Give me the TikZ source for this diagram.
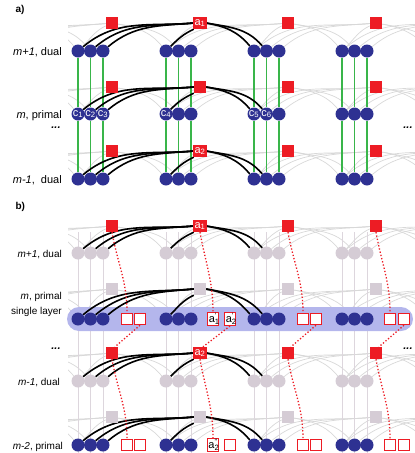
\documentclass[tikz,border=0pt]{standalone}
\usepackage{fontspec}
\setmainfont{Liberation Sans}
\usetikzlibrary{positioning}
\definecolor{navy}{RGB}{46,49,146}
\definecolor{tred}{RGB}{237,28,36}
\definecolor{tgreen}{RGB}{57,181,74}
\definecolor{mauve}{RGB}{213,204,213}
\definecolor{lgrey}{RGB}{216,216,216}
\definecolor{bandblue}{RGB}{180,182,236}
\pgfdeclarelayer{back}
\pgfdeclarelayer{mid}
\pgfdeclarelayer{front}
\pgfsetlayers{back,mid,main,front}
\newcommand{\ssub}[2]{#1\textsubscript{#2}}
\newcommand{\ssup}[3]{#1\rlap{\textsubscript{#2}}\textsuperscript{#3}}

\begin{document}
\begin{tikzpicture}[x=1pt, y=-1pt,
  qubit/.style={circle, minimum size=13pt, inner sep=0pt},
  sq/.style={rectangle, minimum size=12pt, inner sep=1.5pt, text=white, font=\fontsize{11}{11}\selectfont},
  hsq/.style={rectangle, draw=tred, line width=1pt, fill=white, minimum size=11.5pt, inner sep=1pt, font=\fontsize{11}{11}\selectfont},
  ctag/.style={text=white, inner sep=0pt, font=\fontsize{11}{11}\selectfont},
  greyarc/.style={lgrey, line width=0.7pt},
  blackarc/.style={black, line width=1.6pt},
  rung/.style={tgreen, line width=1.4pt},
  vline/.style={mauve!80, line width=0.8pt},
  link/.style={tred, line width=1.3pt, dash pattern=on 1.3pt off 2pt},
  lab/.style={anchor=base east, align=right, inner sep=0pt}]
\useasboundingbox (0,0) rectangle (415,453);

% a) three layers
\foreach \r/\ys/\yc in {1/23/51, 2/87/114, 3/151/179} {
  \foreach \k in {1,...,4} {
    \pgfmathsetmacro{\gx}{88*\k-10}
    \node[sq, fill=tred] (a\r s\k) at (\gx+34,\ys) {};
    \foreach \i/\d in {1/0, 2/12.5, 3/25}
      \node[qubit, fill=navy] (a\r c\k-\i) at (\gx+\d,\yc) {};
  }
  \foreach \k in {-1,0,5,6} {
    \pgfmathsetmacro{\gx}{88*\k-10}
    \coordinate (a\r s\k) at (\gx+34,\ys);
    \foreach \i/\d in {1/0, 2/12.5, 3/25}
      \coordinate (a\r c\k-\i) at (\gx+\d,\yc);
  }
}
\node[sq, fill=tred] (A1) at (a1s2) {\ssub{a}{1}};
\node[sq, fill=tred] (A2) at (a3s2) {\ssub{a}{2}};
\foreach \n/\k/\i in {1/1/1, 2/1/2, 3/1/3, 4/2/1, 5/3/1, 6/3/2}
  \node[ctag] (c\n) at (a2c\k-\i) {\ssub{c}{\n}};

% b) four layers
\foreach \r/\ys/\yc/\sc/\cc in {1/226/253/tred/mauve, 2/289/319/mauve/navy, 3/353/381/tred/mauve, 4/417/445/mauve/navy} {
  \foreach \k in {1,...,4} {
    \pgfmathsetmacro{\gx}{88*\k-10}
    \node[sq, fill=\sc] (b\r s\k) at (\gx+34,\ys) {};
    \foreach \i/\d in {1/0, 2/12.5, 3/25}
      \node[qubit, fill=\cc] (b\r c\k-\i) at (\gx+\d,\yc) {};
  }
  \foreach \k in {-1,0,5,6} {
    \pgfmathsetmacro{\gx}{88*\k-10}
    \coordinate (b\r s\k) at (\gx+34,\ys);
    \foreach \i/\d in {1/0, 2/12.5, 3/25}
      \coordinate (b\r c\k-\i) at (\gx+\d,\yc);
  }
}
\node[sq, fill=tred] (B1) at (b1s2) {\ssub{a}{1}};
\node[sq, fill=tred] (B2) at (b3s2) {\ssub{a}{2}};
\foreach \k/\xa/\xb/\ta/\tb in {1/127/140/{}/{}, 2/213/230/{\ssup{a}{1}{'}}/{\ssup{a}{2}{'}}, 3/303/316/{}/{}, 4/390/404/{}/{}} {
  \node[hsq] (b2h\k-1) at (\xa,319) {\ta};
  \node[hsq] (b2h\k-2) at (\xb,319) {\tb};
}
\foreach \k/\xa/\xb/\ta in {1/127/140/{}, 2/213/230/{\ssup{a}{2}{''}}, 3/303/316/{}, 4/390/404/{}} {
  \node[hsq] (b4h\k-1) at (\xa,445) {\ta};
  \node[hsq] (b4h\k-2) at (\xb,445) {};
}

% labels
\node[anchor=west, font=\bfseries] (ta) at (12,10) {a)};
\node[anchor=west, font=\bfseries] (tb) at (12,207) {b)};
\begin{scope}[font=\fontsize{11}{13}\selectfont]
  \node[lab] (la1) at (62,55) {\textit{m+1}, dual};
  \node[lab] (la2) at (62,118) {\textit{m}, primal};
  \node[lab] (la3) at (62,183) {\textit{m-1},\ \ dual};
  \node[anchor=base, inner sep=0pt] (ea1) at (56,128) {\bfseries\itshape ...};
  \node[anchor=base, inner sep=0pt] (ea2) at (408,128) {\bfseries\itshape ...};
\end{scope}
\begin{scope}[font=\fontsize{10}{15}\selectfont]
  \node[lab] (lb1) at (62,257) {\textit{m+1}, dual};
  \node[lab] (lb2) at (62,314) {\textit{m}, primal\\single layer};
  \node[lab] (lb3) at (60,385) {\textit{m-1}, dual};
  \node[lab] (lb4) at (63,449) {\textit{m-2}, primal};
  \node[anchor=base, inner sep=0pt] (eb1) at (56,349) {\fontsize{11}{13}\selectfont\bfseries\itshape ...};
  \node[anchor=base, inner sep=0pt] (eb2) at (408,349) {\fontsize{11}{13}\selectfont\bfseries\itshape ...};
\end{scope}

% faint couplings
\begin{pgfonlayer}{back}
\begin{scope}
  \clip (68,0) rectangle (415,453);
  \foreach \pa/\rows in {a/{1,2,3}, b/{1,2,3,4}} \foreach \r in \rows {
    \foreach \k in {0,...,5} {
      \pgfmathtruncatemacro{\kl}{\k-1}
      \pgfmathtruncatemacro{\kr}{\k+1}
      \foreach \i in {1,2,3} \draw[greyarc] (\pa\r s\k) to[out=185,in=40] (\pa\r c\kl-\i);
      \draw[greyarc] (\pa\r s\k) to[out=205,in=45] (\pa\r c\k-1);
      \foreach \i in {1,2} \draw[greyarc] (\pa\r s\k) to[out=-10,in=130] (\pa\r c\kr-\i);
    }
  }
\end{scope}
\foreach \k in {1,...,4} \foreach \i in {1,2,3}
  \draw[vline] ([yshift=21pt]b1c\k-\i.center) -- ([yshift=-9pt]b4c\k-\i.center);
\end{pgfonlayer}

\begin{pgfonlayer}{mid}
  \fill[bandblue, rounded corners=12pt] (67,307) rectangle (413,331);
  \foreach \k in {1,...,4} \foreach \i in {1,2,3} {
    \draw[rung] (a1c\k-\i) -- (a2c\k-\i);
    \draw[rung] (a2c\k-\i) -- (a3c\k-\i);
  }
  \foreach \pa/\rows in {a/{1,2,3}, b/{1,2,3,4}} \foreach \r in \rows {
    \foreach \i in {1,2,3} \draw[blackarc] (\pa\r s2.west) to[out=185,in=40] (\pa\r c1-\i);
    \draw[blackarc] (\pa\r s2.south west) to[out=205,in=45] (\pa\r c2-1);
    \foreach \i in {1,2} \draw[blackarc] (\pa\r s2.east) to[out=-10,in=130] (\pa\r c3-\i);
  }
\end{pgfonlayer}

% moves between layers
\begin{pgfonlayer}{front}
  \foreach \k in {1,...,4} {
    \draw[link] (b1s\k.south) to[out=-80,in=90] (b2h\k-1.north);
    \draw[link] (b2h\k-2.south) -- ([xshift=3pt]b3s\k.north);
    \draw[link] (b3s\k.south) to[out=-80,in=90] (b4h\k-1.north);
  }
\end{pgfonlayer}
\end{tikzpicture}
\end{document}
